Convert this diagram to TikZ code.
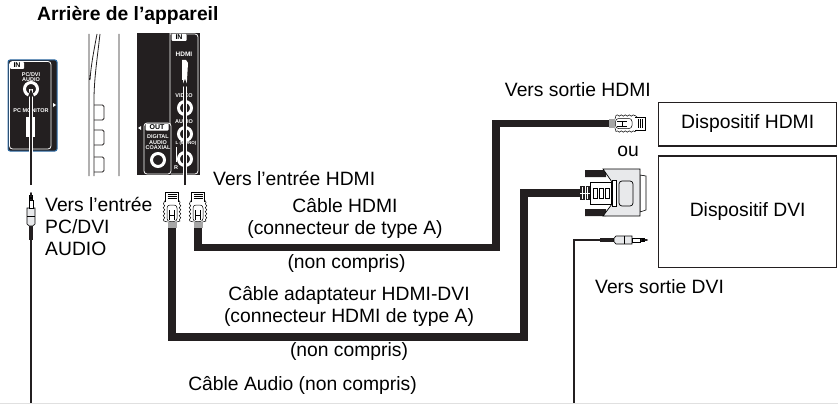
\documentclass[tikz,border=0pt]{standalone}
\usepackage{fontspec}
\setmainfont{Liberation Sans}
\usetikzlibrary{arrows.meta, decorations.pathmorphing}
\definecolor{panelblack}{HTML}{231F20}
\definecolor{panelblue}{HTML}{2F6DA8}
\definecolor{plugfill}{HTML}{E8E9EB}

\tikzset{
    x=1pt, y=-1pt,
    label/.style={font=\fontsize{19.3}{22}\selectfont, text=black, inner sep=0, align=left},
    labelmid/.style={label, align=center},
    tiny/.style={font=\fontsize{5.5}{5.7}\selectfont\bfseries, text=white, inner sep=0, align=center},
    tag/.style={font=\fontsize{7}{7}\selectfont\bfseries, text=black, inner sep=0, fill=white, rounded corners=1pt},
    devicebox/.style={draw=panelblack, line width=1.5pt, inner sep=0, font=\fontsize{19.3}{22}\selectfont},
    hdmicable/.style={draw=panelblack, line width=7.5pt, line cap=butt, line join=miter},
    audiocable/.style={draw=panelblack, line width=1.8pt, line join=miter},
    portarrow/.style={draw=panelblack, line width=2.2pt, -{Stealth[length=9pt, width=7pt]}, preaction={draw=white, line width=4pt, -}},
    port/.style={circle, draw=white, line width=3pt, fill=panelblack, minimum size=13pt, inner sep=0},
    hdmiplug/.pic={
        \fill[gray!70] (-4.5,0) rectangle (4.5,-6);
        \draw[line width=.5pt, fill=white] (-6.5,-26) -- (-6.5,-36) -- (6.5,-36) -- (6.5,-26);
        \draw[line width=.4pt] (-4.5,-33.5) -- (4.5,-33.5) (-4.5,-31.5) -- (4.5,-31.5) (-4.5,-29.5) -- (4.5,-29.5);
        \draw[line width=.5pt, decorate, decoration={snake, amplitude=.7pt, segment length=4pt}] (-8,-7) -- (-8,-26);
        \draw[line width=.5pt, decorate, decoration={snake, amplitude=.7pt, segment length=4pt}] (8,-7) -- (8,-26);
        \draw[line width=.5pt] (-8,-26) -- (-6.5,-28) (8,-26) -- (6.5,-28) (-8,-7) -- (-4.5,-6) (8,-7) -- (4.5,-6);
        \draw[line width=.5pt, rounded corners=3pt] (-5,-6.5) -- (-5,-23) -- (5,-23) -- (5,-6.5) -- cycle;
        \draw[line width=.4pt] (-2.5,-8) -- (-2.5,-18) (2.5,-8) -- (2.5,-18) (-2.5,-13) -- (2.5,-13);
    },
    jackplug/.pic={
        \fill[panelblack] (-1.7,0) rectangle (1.7,-15);
        \draw[line width=.6pt, fill=plugfill] (-4,-16) -- (-4,-32) -- (4,-32) -- (4,-16) -- (1.7,-14) -- (-1.7,-14) -- cycle;
        \draw[line width=.5pt] (-4,-24) -- (4,-24);
        \draw[line width=.6pt, fill=white] (-2,-32) rectangle (2,-40);
        \draw[line width=.6pt, fill=panelblack] (-1.5,-40) rectangle (1.5,-42) (-1.5,-43) rectangle (1.5,-44.5);
        \fill[panelblack] (-.9,-44.5) -- (-.9,-47) -- (0,-48) -- (.9,-47) -- (.9,-44.5) -- cycle;
    }
}

\begin{document}
\begin{tikzpicture}
    \useasboundingbox (0,0) rectangle (838,404);

    \node[label, anchor=west] (title) at (37,15) {\bfseries Arrière de l’appareil};

    % left panel
    \draw[panelblue, fill=panelblack, line width=1pt, rounded corners=2pt] (8,60) rectangle (57,151);
    \draw[white, line width=.8pt, rounded corners=3pt] (9.5,61.5) rectangle (51,149);
    \node[tag, minimum width=14pt, minimum height=7pt] (leftin) at (17,65.5) {IN};
    \node[tiny] (pcdvi) at (31,77) {PC/DVI\\AUDIO};
    \node[tiny] (pcmon) at (31,111) {PC MONITOR};
    \node[port] (pcport) at (31,89) {};
    \fill[white] (26,117) rectangle (35,137);
    \fill[white] (53,103) -- (56,105) -- (53,107) -- cycle;

    % side view
    \draw[panelblack, line width=.8pt] (89,34) -- (89,176) (119,34) -- (119,176) (100,34) .. controls (97,60) and (94,80) .. (94,100) -- (94,176) (97,34) .. controls (94,50) and (91,65) .. (90,80);
    \foreach \ytop/\name in {105/a, 130/b, 157/c}
        \draw[panelblack, line width=.8pt, rounded corners=1.5pt] (94,\ytop) -- (104,\ytop) -- (104,\ytop+15) -- (94,\ytop+15);

    % right panel
    \fill[panelblack] (137,33) rectangle (200,175);
    \draw[white, line width=.8pt, rounded corners=3pt] (170,33) -- (170,124) (170,34) -- (198,34) -- (198,174) -- (171,174);
    \draw[white, line width=.8pt, rounded corners=3pt] (144,174) -- (144,123) -- (171,123) -- (171,174) -- cycle;
    \node[tag, minimum width=15pt, minimum height=7pt] (rightin) at (179,37.5) {IN};
    \node[tag, minimum width=23pt, minimum height=7pt] (rightout) at (157,127) {OUT};
    \node[tiny, font=\fontsize{6.5}{6.5}\selectfont\bfseries] (hdmilogo) at (184,54) {HDMI};
    \fill[white] (182,60) -- (186,60) -- (188,63) -- (187,80) -- (182,80) -- cycle;
    \node[tiny] (video) at (184,96) {VIDEO};
    \node[tiny] (audio) at (184,122) {AUDIO};
    \node[tiny, font=\fontsize{4.5}{5}\selectfont\bfseries] (mono) at (186,143) {L (MONO)};
    \node[tiny] (rlab) at (176,168) {R};
    \draw[white, line width=.5pt] (176,147) -- (176,162);
    \node[port] (videoport) at (185,108) {};
    \node[port] (audioport) at (185,134) {};
    \node[port] (monoport) at (185,159) {};
    \node[tiny] (digital) at (158,142) {DIGITAL\\AUDIO\\[-.5pt]COAXIAL};
    \node[port] (coaxport) at (158,160) {};
    \fill[white] (141,126) -- (138,128) -- (141,130) -- cycle;

    % devices
    \node[devicebox, minimum width=178pt, minimum height=43.5pt] (hdmidev) at (747.7,124) {Dispositif HDMI};
    \node[devicebox, minimum width=178pt, minimum height=111.5pt] (dvidev) at (747.7,211.5) {Dispositif DVI};
    \node[labelmid] (ou) at (628,151) {ou};

    % labels
    \node[label, anchor=north west] (entreeaudio) at (45,197) {Vers l’entrée\\PC/DVI\\AUDIO};
    \node[label, anchor=west] (entreehdmi) at (213,178) {Vers l’entrée HDMI};
    \node[labelmid] (cablehdmi) at (345,218) {Câble HDMI\\(connecteur de type A)};
    \node[labelmid] (noncompris) at (346.5,264) {(non compris)};
    \node[labelmid] (cabledvi) at (349,306) {Câble adaptateur HDMI-DVI\\(connecteur HDMI de type A)};
    \node[labelmid] (noncomprisb) at (349,352) {(non compris)};
    \node[labelmid] (cableaudio) at (302.5,385) {Câble Audio (non compris)};
    \node[label, anchor=east] (sortiehdmi) at (651,90) {Vers sortie HDMI};
    \node[label, anchor=west] (sortiedvi) at (595,287) {Vers sortie DVI};

    % end points of the cables
    \coordinate (plugaudio) at (31,240);
    \coordinate (plugadapt) at (172,228);
    \coordinate (plughdmi) at (198,228);
    \coordinate (endhdmi) at (609,123.5);
    \coordinate (enddvi) at (581,193);
    \coordinate (endaudio) at (600,240);
    \coordinate (baseleft) at (31,404);
    \coordinate (baseright) at (574,404);

    % cables
    \draw[hdmicable] (plughdmi) |- (496,247.5) |- (endhdmi);
    \draw[hdmicable] (plugadapt) |- (524,337) |- (enddvi);
    \draw[audiocable] (plugaudio) -- (baseleft);
    \draw[audiocable] (baseright) |- (endaudio);
    \draw[black!12, line width=.6pt] (0,403.5) -- (838,403.5);

    % plugs
    \pic at (plugadapt) {hdmiplug};
    \pic at (plughdmi) {hdmiplug};
    \pic[rotate=-90] at (endhdmi) {hdmiplug};
    \pic at (plugaudio) {jackplug};
    \pic[rotate=-90] at (endaudio) {jackplug};

    % dvi plug
    \draw[line width=.6pt, fill=white] (640,175) -- (646,176) -- (646,210) -- (640,212) -- cycle;
    \fill[panelblack] (585,170) rectangle (606,177) (585,209) rectangle (606,216);
    \draw[line width=.7pt, fill=plugfill] (603,169) -- (640,169) -- (640,216) -- (603,216) -- (612,204) -- (612,182) -- cycle;
    \draw[line width=.5pt, fill=white] (612,180) rectangle (616,206);
    \draw[line width=.7pt, fill=plugfill, rounded corners=3pt] (619,181) rectangle (633,206);
    \draw[line width=.7pt, fill=white] (590,182) rectangle (611,204);
    \foreach \xslot in {593,599,605}
        \draw[line width=.6pt, fill=white] (\xslot,188) rectangle (\xslot+4.5,198);
    \fill[panelblack] (580,186) rectangle (590,200);
    \draw[white, line width=.7pt] (585,186) -- (585,200) (580,193) -- (590,193) (582.5,187) -- (582.5,199) (587.5,187) -- (587.5,199);

    % arrows to the ports
    \coordinate (arrowaudio) at (31,185);
    \coordinate (arrowhdmi) at (185,185);
    \coordinate (porthdmi) at (185,79);
    \draw[portarrow] (arrowaudio) -- (pcport.center);
    \draw[portarrow] (arrowhdmi) -- (porthdmi);
\end{tikzpicture}
\end{document}
